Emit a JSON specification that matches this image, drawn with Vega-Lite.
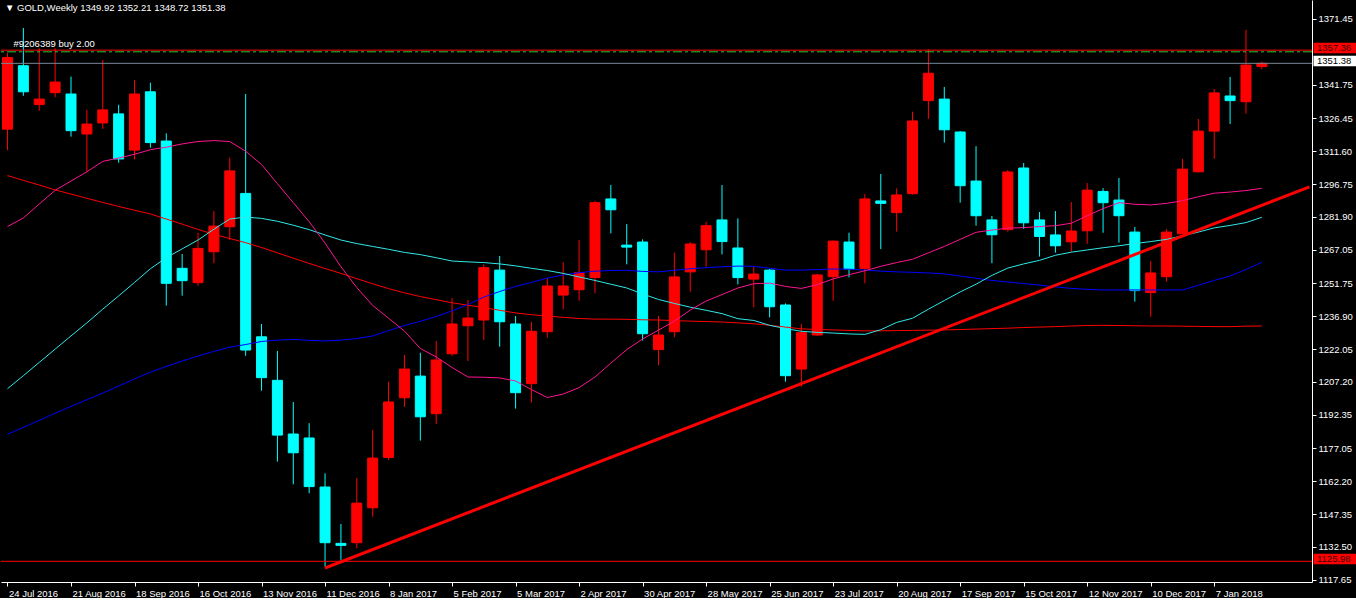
{
  "$schema": "https://vega.github.io/schema/vega-lite/v6.json",
  "width": 1311,
  "height": 582,
  "padding": 0,
  "autosize": {"type": "pad"},
  "background": "#000000",
  "title": {"text": "▼ GOLD,Weekly  1349.92 1352.21 1348.72 1351.38", "anchor": "start", "frame": "group", "offset": -12, "dx": 4, "color": "#FFFFFF", "fontSize": 9.5, "font": "Liberation Sans", "fontWeight": "normal"},
  "data": {"values": [
    {"date":"2016-07-24","open":1321.6,"high":1356.0,"low":1312.1,"close":1354.0,"ma_fast":1277.5,"ma_mid":1204.1,"ma_slow":1183.5,"ma_long":1300.6},
    {"date":"2016-07-31","open":1350.3,"high":1367.4,"low":1336.7,"close":1338.5,"ma_fast":1281.4,"ma_mid":1210.0,"ma_slow":1186.6,"ma_long":1298.4},
    {"date":"2016-08-07","open":1332.7,"high":1358.2,"low":1329.9,"close":1335.2,"ma_fast":1287.7,"ma_mid":1216.0,"ma_slow":1189.8,"ma_long":1296.3},
    {"date":"2016-08-14","open":1338.1,"high":1358.2,"low":1336.0,"close":1342.9,"ma_fast":1293.9,"ma_mid":1222.0,"ma_slow":1193.0,"ma_long":1294.1},
    {"date":"2016-08-21","open":1337.5,"high":1345.4,"low":1318.2,"close":1320.9,"ma_fast":1298.1,"ma_mid":1228.0,"ma_slow":1196.1,"ma_long":1292.2},
    {"date":"2016-08-28","open":1319.4,"high":1330.3,"low":1302.3,"close":1323.9,"ma_fast":1302.3,"ma_mid":1233.9,"ma_slow":1199.1,"ma_long":1290.3},
    {"date":"2016-09-04","open":1324.4,"high":1352.9,"low":1321.7,"close":1330.3,"ma_fast":1307.0,"ma_mid":1240.1,"ma_slow":1202.1,"ma_long":1288.4},
    {"date":"2016-09-11","open":1328.5,"high":1332.6,"low":1306.4,"close":1308.1,"ma_fast":1308.5,"ma_mid":1246.1,"ma_slow":1205.3,"ma_long":1286.6},
    {"date":"2016-09-18","open":1312.1,"high":1343.8,"low":1307.9,"close":1337.5,"ma_fast":1310.2,"ma_mid":1252.2,"ma_slow":1208.5,"ma_long":1284.9},
    {"date":"2016-09-25","open":1338.5,"high":1342.6,"low":1313.2,"close":1315.5,"ma_fast":1312.3,"ma_mid":1258.4,"ma_slow":1211.6,"ma_long":1283.2},
    {"date":"2016-10-02","open":1316.2,"high":1319.7,"low":1241.7,"close":1251.8,"ma_fast":1313.4,"ma_mid":1263.4,"ma_slow":1214.2,"ma_long":1280.9},
    {"date":"2016-10-09","open":1258.6,"high":1265.1,"low":1246.2,"close":1253.0,"ma_fast":1314.9,"ma_mid":1267.4,"ma_slow":1216.6,"ma_long":1278.6},
    {"date":"2016-10-16","open":1252.1,"high":1274.7,"low":1250.7,"close":1267.6,"ma_fast":1316.0,"ma_mid":1271.4,"ma_slow":1218.9,"ma_long":1276.2},
    {"date":"2016-10-23","open":1266.1,"high":1284.5,"low":1260.9,"close":1277.7,"ma_fast":1316.4,"ma_mid":1276.3,"ma_slow":1221.0,"ma_long":1274.0},
    {"date":"2016-10-30","open":1277.4,"high":1308.7,"low":1271.4,"close":1302.7,"ma_fast":1316.0,"ma_mid":1280.9,"ma_slow":1222.9,"ma_long":1272.1},
    {"date":"2016-11-06","open":1292.5,"high":1337.5,"low":1219.0,"close":1221.6,"ma_fast":1311.6,"ma_mid":1281.8,"ma_slow":1224.1,"ma_long":1270.2},
    {"date":"2016-11-13","open":1227.6,"high":1233.4,"low":1203.2,"close":1209.1,"ma_fast":1305.6,"ma_mid":1281.2,"ma_slow":1225.5,"ma_long":1268.0},
    {"date":"2016-11-20","open":1207.9,"high":1221.2,"low":1171.1,"close":1183.1,"ma_fast":1296.9,"ma_mid":1279.9,"ma_slow":1226.1,"ma_long":1265.6},
    {"date":"2016-11-27","open":1183.6,"high":1198.1,"low":1160.8,"close":1175.1,"ma_fast":1288.3,"ma_mid":1278.1,"ma_slow":1226.4,"ma_long":1263.2},
    {"date":"2016-12-04","open":1181.8,"high":1188.5,"low":1156.8,"close":1159.8,"ma_fast":1279.7,"ma_mid":1276.1,"ma_slow":1226.0,"ma_long":1260.8},
    {"date":"2016-12-11","open":1159.6,"high":1165.8,"low":1123.5,"close":1134.4,"ma_fast":1270.0,"ma_mid":1273.7,"ma_slow":1225.7,"ma_long":1258.5},
    {"date":"2016-12-18","open":1134.1,"high":1142.9,"low":1126.6,"close":1133.2,"ma_fast":1259.3,"ma_mid":1271.4,"ma_slow":1226.1,"ma_long":1256.3},
    {"date":"2016-12-25","open":1134.4,"high":1163.7,"low":1131.9,"close":1152.3,"ma_fast":1249.9,"ma_mid":1269.8,"ma_slow":1226.8,"ma_long":1253.9},
    {"date":"2017-01-01","open":1150.2,"high":1185.4,"low":1146.2,"close":1172.7,"ma_fast":1241.8,"ma_mid":1268.5,"ma_slow":1228.0,"ma_long":1251.6},
    {"date":"2017-01-08","open":1173.0,"high":1207.3,"low":1171.8,"close":1198.1,"ma_fast":1236.0,"ma_mid":1267.2,"ma_slow":1230.4,"ma_long":1249.4},
    {"date":"2017-01-15","open":1200.0,"high":1219.4,"low":1195.9,"close":1213.0,"ma_fast":1230.2,"ma_mid":1265.8,"ma_slow":1232.7,"ma_long":1247.5},
    {"date":"2017-01-22","open":1209.8,"high":1220.4,"low":1180.6,"close":1191.4,"ma_fast":1222.3,"ma_mid":1264.8,"ma_slow":1234.6,"ma_long":1245.8},
    {"date":"2017-01-29","open":1192.8,"high":1225.7,"low":1188.1,"close":1217.1,"ma_fast":1218.5,"ma_mid":1263.4,"ma_slow":1236.8,"ma_long":1244.4},
    {"date":"2017-02-05","open":1219.9,"high":1245.2,"low":1219.0,"close":1233.4,"ma_fast":1213.7,"ma_mid":1261.9,"ma_slow":1239.3,"ma_long":1243.0},
    {"date":"2017-02-12","open":1232.6,"high":1244.3,"low":1216.6,"close":1236.1,"ma_fast":1209.4,"ma_mid":1261.5,"ma_slow":1242.2,"ma_long":1241.9},
    {"date":"2017-02-19","open":1235.2,"high":1260.4,"low":1226.2,"close":1258.9,"ma_fast":1209.3,"ma_mid":1261.2,"ma_slow":1245.6,"ma_long":1240.8},
    {"date":"2017-02-26","open":1257.8,"high":1264.2,"low":1223.1,"close":1234.4,"ma_fast":1209.0,"ma_mid":1260.6,"ma_slow":1248.1,"ma_long":1239.6},
    {"date":"2017-03-05","open":1233.4,"high":1237.0,"low":1195.1,"close":1202.3,"ma_fast":1207.6,"ma_mid":1259.7,"ma_slow":1250.4,"ma_long":1238.4},
    {"date":"2017-03-12","open":1206.4,"high":1234.3,"low":1197.9,"close":1230.1,"ma_fast":1203.7,"ma_mid":1258.6,"ma_slow":1252.2,"ma_long":1237.6},
    {"date":"2017-03-19","open":1229.9,"high":1254.1,"low":1227.2,"close":1250.6,"ma_fast":1200.1,"ma_mid":1257.6,"ma_slow":1254.2,"ma_long":1237.0},
    {"date":"2017-03-26","open":1246.5,"high":1261.4,"low":1240.0,"close":1250.6,"ma_fast":1201.7,"ma_mid":1256.3,"ma_slow":1255.6,"ma_long":1236.4},
    {"date":"2017-04-02","open":1248.9,"high":1271.4,"low":1243.9,"close":1256.6,"ma_fast":1204.6,"ma_mid":1254.7,"ma_slow":1256.6,"ma_long":1235.9},
    {"date":"2017-04-09","open":1254.4,"high":1289.1,"low":1247.3,"close":1288.3,"ma_fast":1209.4,"ma_mid":1253.1,"ma_slow":1257.3,"ma_long":1235.6},
    {"date":"2017-04-16","open":1290.0,"high":1296.3,"low":1274.4,"close":1285.1,"ma_fast":1215.7,"ma_mid":1251.4,"ma_slow":1257.6,"ma_long":1235.6},
    {"date":"2017-04-23","open":1269.1,"high":1278.6,"low":1260.4,"close":1268.2,"ma_fast":1221.8,"ma_mid":1249.7,"ma_slow":1257.7,"ma_long":1235.5},
    {"date":"2017-04-30","open":1270.5,"high":1271.7,"low":1225.9,"close":1229.0,"ma_fast":1226.6,"ma_mid":1247.0,"ma_slow":1257.2,"ma_long":1235.3},
    {"date":"2017-05-07","open":1221.8,"high":1237.1,"low":1214.7,"close":1228.4,"ma_fast":1230.6,"ma_mid":1244.5,"ma_slow":1257.0,"ma_long":1235.2},
    {"date":"2017-05-14","open":1229.9,"high":1265.7,"low":1227.4,"close":1254.7,"ma_fast":1234.7,"ma_mid":1242.7,"ma_slow":1257.7,"ma_long":1234.9},
    {"date":"2017-05-21","open":1257.0,"high":1270.5,"low":1248.0,"close":1269.6,"ma_fast":1239.7,"ma_mid":1241.0,"ma_slow":1258.4,"ma_long":1234.7},
    {"date":"2017-05-28","open":1267.0,"high":1279.7,"low":1259.3,"close":1277.9,"ma_fast":1243.8,"ma_mid":1239.6,"ma_slow":1258.9,"ma_long":1234.5},
    {"date":"2017-06-04","open":1280.5,"high":1296.3,"low":1264.9,"close":1270.7,"ma_fast":1246.7,"ma_mid":1238.1,"ma_slow":1259.3,"ma_long":1234.3},
    {"date":"2017-06-11","open":1267.8,"high":1281.2,"low":1251.3,"close":1254.4,"ma_fast":1249.7,"ma_mid":1235.8,"ma_slow":1259.6,"ma_long":1233.9},
    {"date":"2017-06-18","open":1253.7,"high":1259.3,"low":1240.9,"close":1256.0,"ma_fast":1251.6,"ma_mid":1235.0,"ma_slow":1259.5,"ma_long":1233.5},
    {"date":"2017-06-25","open":1257.8,"high":1258.3,"low":1236.4,"close":1241.2,"ma_fast":1251.9,"ma_mid":1232.8,"ma_slow":1258.6,"ma_long":1232.8},
    {"date":"2017-07-02","open":1242.0,"high":1242.7,"low":1207.3,"close":1210.0,"ma_fast":1250.4,"ma_mid":1231.3,"ma_slow":1257.8,"ma_long":1232.0},
    {"date":"2017-07-09","open":1213.0,"high":1233.4,"low":1205.0,"close":1229.5,"ma_fast":1249.5,"ma_mid":1230.1,"ma_slow":1257.8,"ma_long":1231.2},
    {"date":"2017-07-16","open":1228.4,"high":1256.0,"low":1228.1,"close":1255.6,"ma_fast":1251.2,"ma_mid":1229.6,"ma_slow":1258.0,"ma_long":1230.9},
    {"date":"2017-07-23","open":1254.8,"high":1271.2,"low":1243.9,"close":1270.9,"ma_fast":1253.8,"ma_mid":1229.3,"ma_slow":1258.3,"ma_long":1230.7},
    {"date":"2017-07-30","open":1270.5,"high":1274.7,"low":1254.5,"close":1258.3,"ma_fast":1255.7,"ma_mid":1228.9,"ma_slow":1258.2,"ma_long":1230.5},
    {"date":"2017-08-06","open":1258.6,"high":1292.2,"low":1251.8,"close":1290.0,"ma_fast":1257.5,"ma_mid":1228.7,"ma_slow":1257.8,"ma_long":1230.3},
    {"date":"2017-08-13","open":1289.1,"high":1301.3,"low":1267.3,"close":1288.0,"ma_fast":1259.5,"ma_mid":1230.8,"ma_slow":1257.3,"ma_long":1230.3},
    {"date":"2017-08-20","open":1283.8,"high":1294.8,"low":1275.2,"close":1291.8,"ma_fast":1261.2,"ma_mid":1234.1,"ma_slow":1257.0,"ma_long":1230.4},
    {"date":"2017-08-27","open":1292.4,"high":1329.5,"low":1291.9,"close":1325.3,"ma_fast":1262.7,"ma_mid":1236.0,"ma_slow":1256.8,"ma_long":1230.5},
    {"date":"2017-09-03","open":1334.5,"high":1357.7,"low":1326.3,"close":1346.9,"ma_fast":1265.6,"ma_mid":1240.1,"ma_slow":1256.5,"ma_long":1230.6},
    {"date":"2017-09-10","open":1335.2,"high":1340.7,"low":1315.5,"close":1321.3,"ma_fast":1268.5,"ma_mid":1244.0,"ma_slow":1256.1,"ma_long":1230.7},
    {"date":"2017-09-17","open":1320.3,"high":1320.8,"low":1288.3,"close":1296.0,"ma_fast":1271.7,"ma_mid":1247.9,"ma_slow":1255.1,"ma_long":1230.9},
    {"date":"2017-09-24","open":1298.1,"high":1313.9,"low":1277.9,"close":1282.4,"ma_fast":1274.9,"ma_mid":1251.4,"ma_slow":1254.1,"ma_long":1231.1},
    {"date":"2017-10-01","open":1280.5,"high":1282.3,"low":1260.9,"close":1273.8,"ma_fast":1275.9,"ma_mid":1255.4,"ma_slow":1253.1,"ma_long":1231.3},
    {"date":"2017-10-08","open":1276.1,"high":1303.1,"low":1275.2,"close":1302.2,"ma_fast":1276.8,"ma_mid":1258.7,"ma_slow":1252.4,"ma_long":1231.5},
    {"date":"2017-10-15","open":1304.0,"high":1306.3,"low":1276.5,"close":1279.2,"ma_fast":1277.0,"ma_mid":1260.6,"ma_slow":1251.7,"ma_long":1231.8},
    {"date":"2017-10-22","open":1280.5,"high":1284.1,"low":1263.9,"close":1273.0,"ma_fast":1277.5,"ma_mid":1262.2,"ma_slow":1251.0,"ma_long":1232.0},
    {"date":"2017-10-29","open":1273.7,"high":1284.5,"low":1265.7,"close":1268.8,"ma_fast":1277.9,"ma_mid":1264.5,"ma_slow":1250.2,"ma_long":1232.2},
    {"date":"2017-11-05","open":1270.6,"high":1288.6,"low":1266.1,"close":1275.5,"ma_fast":1279.0,"ma_mid":1265.9,"ma_slow":1249.5,"ma_long":1232.5},
    {"date":"2017-11-12","open":1275.6,"high":1297.2,"low":1269.7,"close":1294.0,"ma_fast":1282.4,"ma_mid":1266.9,"ma_slow":1249.1,"ma_long":1232.7},
    {"date":"2017-11-19","open":1293.4,"high":1294.9,"low":1274.7,"close":1288.3,"ma_fast":1285.6,"ma_mid":1267.9,"ma_slow":1248.8,"ma_long":1232.8},
    {"date":"2017-11-26","open":1289.5,"high":1299.5,"low":1270.2,"close":1282.4,"ma_fast":1288.3,"ma_mid":1268.8,"ma_slow":1248.8,"ma_long":1232.7},
    {"date":"2017-12-03","open":1275.0,"high":1277.3,"low":1243.5,"close":1248.5,"ma_fast":1287.6,"ma_mid":1269.8,"ma_slow":1248.8,"ma_long":1232.6},
    {"date":"2017-12-10","open":1247.6,"high":1261.9,"low":1236.7,"close":1256.5,"ma_fast":1287.3,"ma_mid":1270.7,"ma_slow":1248.8,"ma_long":1232.5},
    {"date":"2017-12-17","open":1254.8,"high":1276.4,"low":1252.6,"close":1275.0,"ma_fast":1288.0,"ma_mid":1271.7,"ma_slow":1248.8,"ma_long":1232.5},
    {"date":"2017-12-24","open":1274.2,"high":1308.1,"low":1273.9,"close":1303.5,"ma_fast":1289.2,"ma_mid":1273.3,"ma_slow":1248.8,"ma_long":1232.4},
    {"date":"2017-12-31","open":1302.3,"high":1326.2,"low":1302.0,"close":1320.7,"ma_fast":1291.0,"ma_mid":1275.0,"ma_slow":1250.9,"ma_long":1232.3},
    {"date":"2018-01-07","open":1320.7,"high":1339.8,"low":1308.2,"close":1338.0,"ma_fast":1292.6,"ma_mid":1276.9,"ma_slow":1253.1,"ma_long":1232.2},
    {"date":"2018-01-14","open":1336.6,"high":1345.2,"low":1323.9,"close":1334.5,"ma_fast":1293.1,"ma_mid":1278.0,"ma_slow":1255.1,"ma_long":1232.2},
    {"date":"2018-01-21","open":1334.0,"high":1366.5,"low":1328.6,"close":1350.6,"ma_fast":1293.8,"ma_mid":1279.3,"ma_slow":1258.1,"ma_long":1232.4},
    {"date":"2018-01-28","open":1349.92,"high":1352.21,"low":1348.72,"close":1351.38,"ma_fast":1294.8,"ma_mid":1281.7,"ma_slow":1261.3,"ma_long":1232.5}
  ]},
  "layer": [
    {
      "mark": {"type": "rule", "strokeWidth": 1},
      "encoding": {
        "x": {"field": "date", "type": "temporal", "title": null,
          "scale": {"type": "utc", "domain": [1469261700000, 1518817500000]},
          "axis": {"orient": "bottom", "format": "%-d %b %Y", "labelAlign": "left", "labelBaseline": "top", "labelPadding": 2, "tickSize": 4, "labelFlush": false, "labelOverlap": false, "labelOffset": 1, "tickCount": 40,
            "values": [
              {"year":2016,"month":7,"date":24,"utc":true},{"year":2016,"month":8,"date":21,"utc":true},{"year":2016,"month":9,"date":18,"utc":true},{"year":2016,"month":10,"date":16,"utc":true},{"year":2016,"month":11,"date":13,"utc":true},{"year":2016,"month":12,"date":11,"utc":true},
              {"year":2017,"month":1,"date":8,"utc":true},{"year":2017,"month":2,"date":5,"utc":true},{"year":2017,"month":3,"date":5,"utc":true},{"year":2017,"month":4,"date":2,"utc":true},{"year":2017,"month":4,"date":30,"utc":true},{"year":2017,"month":5,"date":28,"utc":true},{"year":2017,"month":6,"date":25,"utc":true},{"year":2017,"month":7,"date":23,"utc":true},{"year":2017,"month":8,"date":20,"utc":true},{"year":2017,"month":9,"date":17,"utc":true},{"year":2017,"month":10,"date":15,"utc":true},{"year":2017,"month":11,"date":12,"utc":true},{"year":2017,"month":12,"date":10,"utc":true},
              {"year":2018,"month":1,"date":7,"utc":true}
            ]}},
        "y": {"field": "low", "type": "quantitative", "title": null,
          "scale": {"domain": [1116.61, 1380.05], "nice": false, "zero": false},
          "axis": {"orient": "right", "format": ".2f", "labelAlign": "left", "labelBaseline": "middle", "labelPadding": 2, "tickSize": 4, "labelFlush": false, "labelOverlap": false, "labelBound": false, "tickCount": 40,
            "values": [1371.45, 1341.75, 1326.45, 1311.60, 1296.75, 1281.90, 1267.05, 1251.75, 1236.90, 1222.05, 1207.20, 1192.35, 1177.05, 1162.20, 1147.35, 1132.50, 1117.65]}},
        "y2": {"field": "high"},
        "color": {"condition": {"test": "datum.close >= datum.open", "value": "#FF0000"}, "value": "#00FFFF"}
      }
    },
    {
      "mark": {"type": "bar", "size": 10, "strokeWidth": 1, "clip": true},
      "encoding": {
        "x": {"field": "date", "type": "temporal", "title": null, "scale": {"type": "utc", "domain": [1469261700000, 1518817500000]}},
        "y": {"field": "open", "type": "quantitative", "title": null, "scale": {"domain": [1116.61, 1380.05], "nice": false, "zero": false}},
        "y2": {"field": "close"},
        "color": {"condition": {"test": "datum.close >= datum.open", "value": "#FF0000"}, "value": "#00FFFF"},
        "stroke": {"condition": {"test": "datum.close >= datum.open", "value": "#FF0000"}, "value": "#00FFFF"}
      }
    },
    {
      "mark": {"type": "line", "strokeWidth": 1, "color": "#FF0000", "clip": true},
      "encoding": {
        "x": {"field": "date", "type": "temporal", "title": null, "scale": {"type": "utc", "domain": [1469261700000, 1518817500000]}},
        "y": {"field": "ma_long", "type": "quantitative", "title": null, "scale": {"domain": [1116.61, 1380.05], "nice": false, "zero": false}}
      }
    },
    {
      "mark": {"type": "line", "strokeWidth": 1, "color": "#0000FF", "clip": true},
      "encoding": {
        "x": {"field": "date", "type": "temporal", "title": null, "scale": {"type": "utc", "domain": [1469261700000, 1518817500000]}},
        "y": {"field": "ma_slow", "type": "quantitative", "title": null, "scale": {"domain": [1116.61, 1380.05], "nice": false, "zero": false}}
      }
    },
    {
      "mark": {"type": "line", "strokeWidth": 1, "color": "#30E8E8", "clip": true},
      "encoding": {
        "x": {"field": "date", "type": "temporal", "title": null, "scale": {"type": "utc", "domain": [1469261700000, 1518817500000]}},
        "y": {"field": "ma_mid", "type": "quantitative", "title": null, "scale": {"domain": [1116.61, 1380.05], "nice": false, "zero": false}}
      }
    },
    {
      "mark": {"type": "line", "strokeWidth": 1, "color": "#FF1493", "clip": true},
      "encoding": {
        "x": {"field": "date", "type": "temporal", "title": null, "scale": {"type": "utc", "domain": [1469261700000, 1518817500000]}},
        "y": {"field": "ma_fast", "type": "quantitative", "title": null, "scale": {"domain": [1116.61, 1380.05], "nice": false, "zero": false}}
      }
    },
    {
      "data": {"values": [{"price": 1357.36, "kind": "alert"}, {"price": 1351.38, "kind": "bid"}, {"price": 1125.98, "kind": "alert"}]},
      "mark": {"type": "rule", "strokeWidth": 1},
      "encoding": {
        "y": {"field": "price", "type": "quantitative", "title": null, "scale": {"domain": [1116.61, 1380.05], "nice": false, "zero": false}},
        "color": {"condition": {"test": "datum.kind === 'bid'", "value": "#778899"}, "value": "#FF0000"}
      }
    },
    {
      "data": {"values": [{"date": "2016-07-24", "price": 1356.6, "label": "#9206389 buy 2.00"}]},
      "layer": [
        {
          "mark": {"type": "rule", "strokeWidth": 1, "color": "#2FC42F", "strokeDash": [9, 3, 3, 3]},
          "encoding": {
            "y": {"field": "price", "type": "quantitative", "title": null, "scale": {"domain": [1116.61, 1380.05], "nice": false, "zero": false}}
          }
        },
        {
          "mark": {"type": "text", "align": "left", "baseline": "alphabetic", "dx": 6, "dy": -4.8, "color": "#FFFFFF", "fontSize": 9.5, "font": "Liberation Sans"},
          "encoding": {
            "x": {"field": "date", "type": "temporal", "title": null, "scale": {"type": "utc", "domain": [1469261700000, 1518817500000]}},
            "y": {"field": "price", "type": "quantitative", "title": null, "scale": {"domain": [1116.61, 1380.05], "nice": false, "zero": false}},
            "text": {"field": "label"}
          }
        }
      ]
    },
    {
      "data": {"values": [{"date": "2016-12-11", "price": 1122.95}, {"date": "2018-02-18", "price": 1295.45}]},
      "mark": {"type": "line", "strokeWidth": 3, "color": "#FF0000", "clip": true},
      "encoding": {
        "x": {"field": "date", "type": "temporal", "title": null, "scale": {"type": "utc", "domain": [1469261700000, 1518817500000]}},
        "y": {"field": "price", "type": "quantitative", "title": null, "scale": {"domain": [1116.61, 1380.05], "nice": false, "zero": false}}
      }
    },
    {
      "data": {"values": [{"price": 1357.36, "kind": "alert"}, {"price": 1351.38, "kind": "bid"}, {"price": 1125.98, "kind": "alert"}]},
      "layer": [
        {
          "mark": {"type": "rect", "xOffset": 1.5, "x2Offset": 44.5, "yOffset": -7.5, "y2Offset": 3},
          "encoding": {
            "x": {"value": "width"},
            "x2": {"value": "width"},
            "y": {"field": "price", "type": "quantitative", "title": null, "scale": {"domain": [1116.61, 1380.05], "nice": false, "zero": false}},
            "y2": {"field": "price"},
            "color": {"condition": {"test": "datum.kind === 'bid'", "value": "#FFFFFF"}, "value": "#FF0000"}
          }
        },
        {
          "mark": {"type": "text", "align": "left", "baseline": "middle", "dx": 5, "dy": -2.3, "fontSize": 9.5, "font": "Liberation Sans"},
          "encoding": {
            "x": {"value": "width"},
            "y": {"field": "price", "type": "quantitative", "title": null, "scale": {"domain": [1116.61, 1380.05], "nice": false, "zero": false}},
            "text": {"field": "price", "type": "quantitative", "format": ".2f"},
            "color": {"condition": {"test": "datum.kind === 'bid'", "value": "#000000"}, "value": "#3A0000"}
          }
        }
      ]
    }
  ],
  "config": {
    "view": {"stroke": null},
    "axis": {"grid": false, "domainColor": "#FFFFFF", "tickColor": "#FFFFFF", "labelColor": "#FFFFFF", "labelFont": "Liberation Sans", "labelFontSize": 9.5, "domainWidth": 1, "tickWidth": 1, "labelOverlap": false}
  }
}
